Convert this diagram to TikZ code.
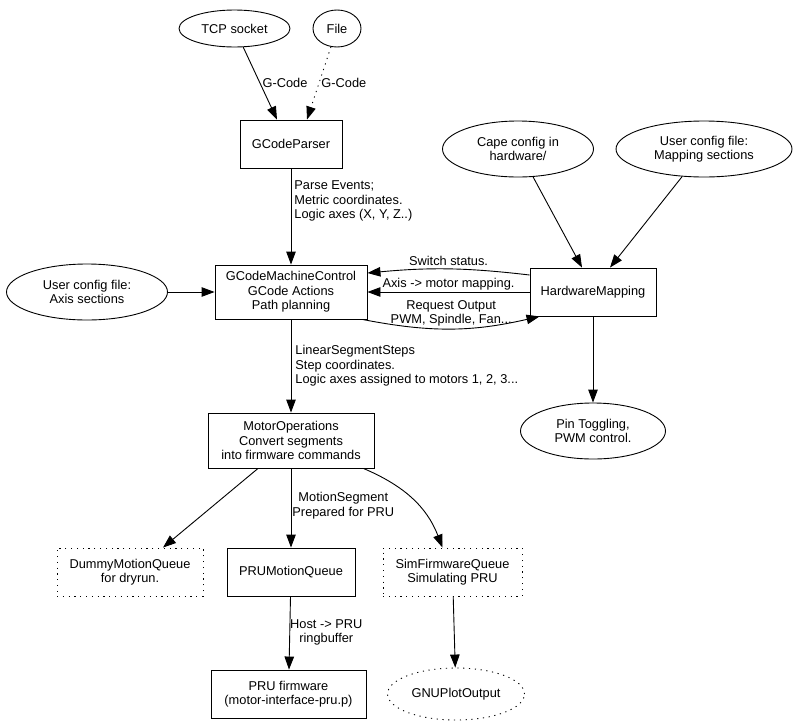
\documentclass[tikz,border=0pt]{standalone}
\usepackage{fontspec}
\setmainfont{Liberation Sans}
\usetikzlibrary{shapes.geometric,arrows.meta,calc}
\begin{document}
\begin{tikzpicture}[x=1pt,y=-1pt,
  every node/.style={font=\fontsize{12.8}{14.5}\selectfont, align=center, inner sep=0pt},
  rbox/.style={draw, rectangle, line width=0.9pt},
  dbox/.style={draw, rectangle, line width=0.9pt, dash pattern=on 1.2pt off 4.6pt},
  ell/.style={draw, ellipse, line width=0.9pt},
  dell/.style={draw, ellipse, line width=0.9pt, dash pattern=on 1.2pt off 4.6pt},
  arr/.style={line width=0.9pt, -{Triangle[length=13pt,width=9.5pt]}},
  darr/.style={arr, dash pattern=on 1.2pt off 4.6pt},
  lblw/.style={anchor=west, align=left},
  lblc/.style={anchor=west, align=center}
]
\useasboundingbox (0,0) rectangle (797,726);

% nodes
\node[ell, minimum width=111pt, minimum height=37pt] (tcp) at (234.5,28.5) {TCP socket};
\node[ell, minimum width=48pt, minimum height=37pt] (file) at (337,28.5) {File};
\node[rbox, minimum width=102pt, minimum height=48pt] (gcp) at (291,144) {GCodeParser};
\node[rbox, minimum width=152pt, minimum height=54pt] (gcmc) at (291,292) {GCodeMachineControl\\GCode Actions\\Path planning};
\node[ell, minimum width=161pt, minimum height=56pt] (axis) at (87,292) {User config file:\\Axis sections};
\node[ell, minimum width=151pt, minimum height=56pt] (cape) at (518,149) {Cape config in\\hardware/};
\node[ell, minimum width=176pt, minimum height=56pt] (map) at (704,149) {User config file:\\Mapping sections};
\node[rbox, minimum width=126pt, minimum height=48pt] (hm) at (593,292) {HardwareMapping};
\node[ell, minimum width=145pt, minimum height=56pt] (pin) at (593,431) {Pin Toggling,\\PWM control.};
\node[rbox, minimum width=166pt, minimum height=55pt] (mo) at (291,440.5) {MotorOperations\\Convert segments\\into firmware commands};
\node[dbox, minimum width=146pt, minimum height=48pt] (dummy) at (130,572) {DummyMotionQueue\\for dryrun.};
\node[rbox, minimum width=128pt, minimum height=48pt] (prumq) at (291,572) {PRUMotionQueue};
\node[dbox, minimum width=139pt, minimum height=48pt] (sfq) at (452.5,572) {SimFirmwareQueue\\Simulating PRU};
\node[rbox, minimum width=155pt, minimum height=48pt] (prufw) at (288.5,694) {PRU firmware\\(motor-interface-pru.p)};
\node[dell, minimum width=137pt, minimum height=52pt] (gnu) at (456,694) {GNUPlotOutput};

% edges
\draw[arr] (tcp) -- ([xshift=-14pt]gcp.north) node[pos=0.5, anchor=west, xshift=2pt] {G-Code};
\draw[darr] (file) -- ([xshift=16pt]gcp.north) node[pos=0.5, anchor=west, xshift=2pt] {G-Code};
\draw[arr] (gcp) -- (gcmc) node[pos=0.34, lblw, xshift=3pt] {Parse Events;\\Metric coordinates.\\Logic axes (X, Y, Z..)};
\draw[arr] (axis) -- (gcmc);
\draw[arr] ([yshift=17pt]hm.west) to[bend right=6] node[midway, above=3pt] {Switch status.} ([yshift=19pt]gcmc.east);
\draw[arr] (hm.west) -- node[midway, above=1pt] {Axis -> motor mapping.} (gcmc.east);
\draw[arr] ([xshift=-5pt]gcmc.south east) to[bend right=12] node[midway, above=2pt] {Request Output\\PWM, Spindle, Fan...} ([xshift=10pt]hm.south west);
\draw[arr] (cape) -- ([xshift=-11pt]hm.north);
\draw[arr] (map) -- ([xshift=17pt]hm.north);
\draw[arr] (hm) -- (pin);
\draw[arr] (gcmc) -- (mo) node[pos=0.5, lblw, xshift=4pt] {LinearSegmentSteps\\Step coordinates.\\Logic axes assigned to motors 1, 2, 3...};
\draw[arr] ([xshift=-33pt]mo.south) -- ([xshift=33pt]dummy.north);
\draw[arr] (mo) -- (prumq) node[pos=0.47, lblc, xshift=1pt] {MotionSegment\\Prepared for PRU};
\draw[arr] ([xshift=-11pt]mo.south east) to[out=-23, in=111] ([xshift=-10pt]sfq.north);
\draw[arr] (prumq) -- (prufw) node[pos=0.49, lblc, xshift=0pt] {Host -> PRU\\ringbuffer};
\draw[arr] (sfq) -- (gnu);
\end{tikzpicture}
\end{document}
